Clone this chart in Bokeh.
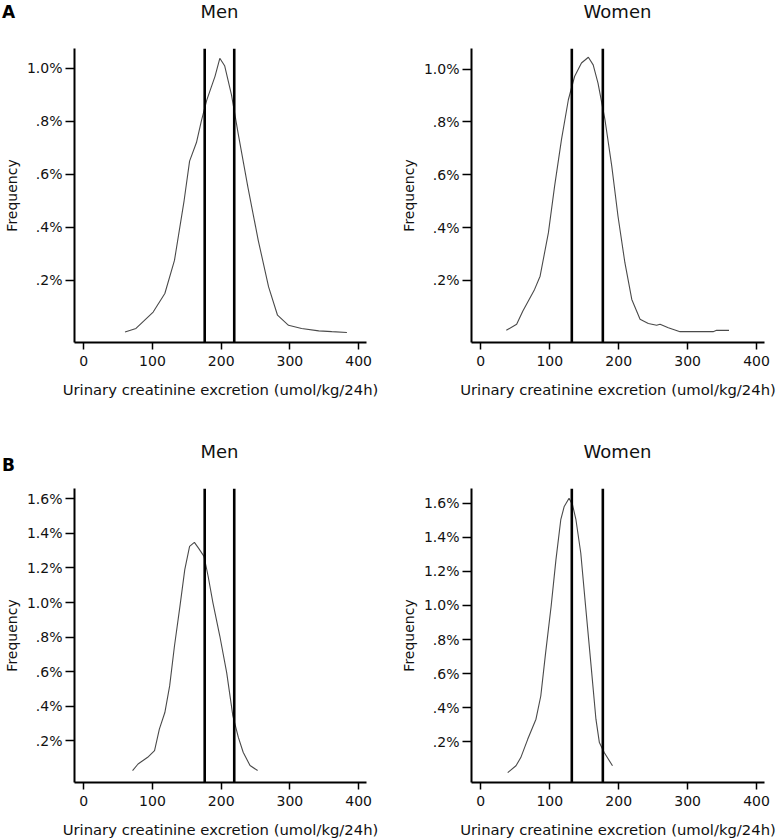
from bokeh.plotting import figure
from bokeh.models import FixedTicker, Range1d, Span, GridBox, Div
from bokeh.embed import file_html
from bokeh.resources import INLINE

# ---- data ----
x_ticks = [0, 100, 200, 300, 400]
y_ticks_A = [0.2, 0.4, 0.6, 0.8, 1.0]
y_labels_A = [".2%", ".4%", ".6%", ".8%", "1.0%"]
y_ticks_B = [0.2, 0.4, 0.6, 0.8, 1.0, 1.2, 1.4, 1.6]
y_labels_B = [".2%", ".4%", ".6%", ".8%", "1.0%", "1.2%", "1.4%", "1.6%"]

cut_men = [176, 219]
cut_women = [132, 177]

men_A_x = [60, 76, 101, 118, 132, 146, 154, 164, 171, 179, 191, 198, 205, 215, 225, 239, 254, 269, 282, 298, 317, 342, 361, 383]
men_A_y = [0.005, 0.018, 0.08, 0.15, 0.275, 0.50, 0.65, 0.72, 0.80, 0.88, 0.97, 1.038, 1.01, 0.90, 0.75, 0.55, 0.35, 0.175, 0.068, 0.03, 0.018, 0.009, 0.006, 0.003]

women_A_x = [37, 52, 61, 78, 86, 98, 107, 117, 127, 136, 146, 156, 163, 170, 180, 190, 199, 209, 219, 231, 243, 255, 260, 272, 289, 306, 337, 342, 360]
women_A_y = [0.011, 0.034, 0.084, 0.166, 0.216, 0.38, 0.556, 0.733, 0.884, 0.972, 1.023, 1.045, 1.016, 0.947, 0.81, 0.632, 0.443, 0.267, 0.128, 0.053, 0.037, 0.03, 0.034, 0.021, 0.006, 0.006, 0.006, 0.011, 0.011]

men_B_x = [71, 79, 93, 103, 110, 118, 125, 132, 140, 147, 154, 161, 167, 175, 181, 188, 198, 208, 217, 225, 232, 242, 253]
men_B_y = [0.027, 0.065, 0.104, 0.142, 0.267, 0.363, 0.517, 0.748, 0.979, 1.19, 1.325, 1.348, 1.315, 1.267, 1.152, 0.998, 0.806, 0.594, 0.344, 0.219, 0.133, 0.056, 0.027]

women_B_x = [39, 51, 58, 68, 80, 87, 94, 102, 109, 116, 121, 128, 133, 138, 145, 152, 160, 167, 172, 179, 191]
women_B_y = [0.02, 0.06, 0.108, 0.215, 0.333, 0.469, 0.722, 0.995, 1.268, 1.502, 1.58, 1.628, 1.59, 1.502, 1.307, 0.995, 0.644, 0.333, 0.196, 0.138, 0.06]

panel_titles = ["Men", "Women", "Men", "Women"]
panel_letters = ["A", "B"]

FONT = "DejaVu Sans"


def make_panel(xs, ys, cuts, yticks, ylabels, yrange, w, h, borders):
    left, right, top, bottom = borders
    p = figure(width=w, height=h, output_backend="svg", toolbar_location=None,
               x_range=Range1d(-13.5, 411.5), y_range=Range1d(*yrange),
               min_border_left=left, min_border_right=right,
               min_border_top=top, min_border_bottom=bottom)
    p.outline_line_color = None
    p.xgrid.grid_line_color = None
    p.ygrid.grid_line_color = None
    p.background_fill_color = "white"
    p.border_fill_color = "white"

    p.line(xs, ys, line_color="#4a4a4a", line_width=1.1)
    for c in cuts:
        p.add_layout(Span(location=c, dimension="height", line_color="black", line_width=2.6))

    xa = p.xaxis[0]
    xa.ticker = FixedTicker(ticks=x_ticks)
    xa.axis_label = "Urinary creatinine excretion (umol/kg/24h)"
    xa.axis_label_text_font = FONT
    xa.axis_label_text_font_size = "14.8px"
    xa.axis_label_text_font_style = "normal"
    xa.axis_label_text_color = "#111111"
    xa.axis_label_standoff = 12
    xa.major_label_text_font = FONT
    xa.major_label_text_font_size = "14px"
    xa.major_label_text_color = "#111111"
    xa.major_label_standoff = 6
    xa.axis_line_width = 2
    xa.axis_line_color = "black"
    xa.major_tick_out = 7
    xa.major_tick_in = 0
    xa.major_tick_line_width = 1.5
    xa.minor_tick_line_color = None

    ya = p.yaxis[0]
    ya.ticker = FixedTicker(ticks=yticks)
    ya.major_label_overrides = {t: l for t, l in zip(yticks, ylabels)}
    ya.axis_label = "Frequency"
    ya.axis_label_text_font = FONT
    ya.axis_label_text_font_size = "14px"
    ya.axis_label_text_font_style = "normal"
    ya.axis_label_text_color = "#111111"
    ya.axis_label_standoff = 4
    ya.major_label_text_font = FONT
    ya.major_label_text_font_size = "14px"
    ya.major_label_text_color = "#111111"
    ya.major_label_standoff = 3
    ya.axis_line_width = 2
    ya.axis_line_color = "black"
    ya.major_tick_out = 9
    ya.major_tick_in = 0
    ya.major_tick_line_width = 1.5
    ya.minor_tick_line_color = None
    return p


def letter_div(txt, top):
    return Div(text=txt, width=18, height=22, margin=(top, 0, 0, 2), align="start",
               styles={"font-family": FONT, "font-size": "17px", "font-weight": "bold",
                       "color": "black", "line-height": "20px"})


def title_div(txt, top, left):
    return Div(text=txt, width=293, height=24, margin=(top, 0, 0, left), align="start",
               styles={"font-family": FONT, "font-size": "18px", "font-weight": "normal",
                       "color": "#111111", "line-height": "22px", "text-align": "center"})


WL, WR = 397, 381
HT, HB = 420, 420

tl = make_panel(men_A_x, men_A_y, cut_men, y_ticks_A, y_labels_A, (-0.035, 1.075),
                WL, HT, (73, 31, 48, 78))
tr = make_panel(women_A_x, women_A_y, cut_women, y_ticks_A, y_labels_A, (-0.035, 1.078),
                WR, HT, (74, 14, 48, 78))
bl = make_panel(men_B_x, men_B_y, cut_men, y_ticks_B, y_labels_B, (-0.042, 1.66),
                WL, HB, (73, 31, 68, 57))
br = make_panel(women_B_x, women_B_y, cut_women, y_ticks_B, y_labels_B, (-0.038, 1.685),
                WR, HB, (74, 14, 68, 57))

grid = GridBox(children=[(tl, 0, 0), (tr, 0, 1), (bl, 1, 0), (br, 1, 1),
                         (letter_div(panel_letters[0], 2), 0, 0),
                         (letter_div(panel_letters[1], 35), 1, 0),
                         (title_div(panel_titles[0], 1, 73), 0, 0),
                         (title_div(panel_titles[1], 1, 74), 0, 1),
                         (title_div(panel_titles[2], 21, 73), 1, 0),
                         (title_div(panel_titles[3], 21, 74), 1, 1)],
               spacing=0)

with open("out.html", "w") as f:
    f.write(file_html(grid, INLINE))
